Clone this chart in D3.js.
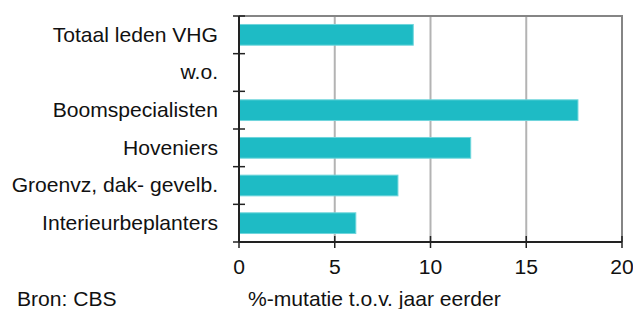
<!DOCTYPE html>
<html>
<head>
<meta charset="utf-8">
<script src="https://cdn.jsdelivr.net/npm/d3@7"></script>
<style>
  body { margin: 0; background: #fff; overflow: hidden; }
  text { font-family: "Liberation Sans", Arial, sans-serif; fill: #111; font-size: 21.1px; }
</style>
</head>
<body>
<div id="chart"></div>
<script>
// Data
const categories = ["Totaal leden VHG", "w.o.", "Boomspecialisten", "Hoveniers", "Groenvz, dak- gevelb.", "Interieurbeplanters"];
const values = [9.1, null, 17.7, 12.1, 8.3, 6.1];
const xTicks = [0, 5, 10, 15, 20];
const source = "Bron: CBS";
const xTitle = "%-mutatie t.o.v. jaar eerder";

const width = 633, height = 309;
const margin = { top: 16, right: 11, bottom: 67, left: 239 };

const svg = d3.select("#chart").append("svg")
    .attr("width", width)
    .attr("height", height);

const x = d3.scaleLinear()
    .domain([0, 20])
    .range([margin.left, width - margin.right]);

const y = d3.scaleBand()
    .domain(categories)
    .range([margin.top, height - margin.bottom])
    .paddingInner(0.45)
    .paddingOuter(0.225);

// band edges for the y ticks
const yEdges = d3.scaleLinear()
    .domain([0, categories.length])
    .range([margin.top, height - margin.bottom]);

const plotTop = margin.top, plotBottom = height - margin.bottom;

// grid lines
svg.append("g")
    .selectAll("line")
    .data(xTicks.slice(1, -1))
    .join("line")
    .attr("x1", d => x(d)).attr("x2", d => x(d))
    .attr("y1", plotTop).attr("y2", plotBottom)
    .attr("stroke", "#b3b3b3")
    .attr("stroke-width", 2);

// top and right frame
svg.append("path")
    .attr("d", `M${x(0)},${plotTop}H${x(20)}V${plotBottom}`)
    .attr("fill", "none")
    .attr("stroke", "#858585")
    .attr("stroke-width", 2);

// bars
svg.append("g")
    .selectAll("rect")
    .data(categories.map((c, i) => ({ c, v: values[i] })).filter(d => d.v != null))
    .join("rect")
    .attr("x", x(0))
    .attr("y", d => y(d.c))
    .attr("width", d => x(d.v) - x(0))
    .attr("height", y.bandwidth())
    .attr("fill", "#1ebbc5")
    .attr("stroke", "#6fd6dc")
    .attr("stroke-width", 1);

// left axis with crossing ticks
const yTickPos = d3.range(categories.length + 1).map(i => yEdges(i));
svg.append("line")
    .attr("x1", x(0)).attr("x2", x(0))
    .attr("y1", plotTop).attr("y2", plotBottom)
    .attr("stroke", "#222").attr("stroke-width", 2);
svg.append("g")
    .selectAll("line")
    .data(yTickPos)
    .join("line")
    .attr("x1", x(0) - 6).attr("x2", x(0) + 6)
    .attr("y1", d => d).attr("y2", d => d)
    .attr("stroke", "#222").attr("stroke-width", 1.5);

// bottom axis
svg.append("line")
    .attr("x1", x(0)).attr("x2", x(20))
    .attr("y1", plotBottom).attr("y2", plotBottom)
    .attr("stroke", "#222").attr("stroke-width", 2);
svg.append("g")
    .selectAll("line")
    .data(xTicks)
    .join("line")
    .attr("x1", d => x(d)).attr("x2", d => x(d))
    .attr("y1", plotBottom - 6).attr("y2", plotBottom + 6)
    .attr("stroke", "#222").attr("stroke-width", 1.5);

svg.append("g")
    .selectAll("text")
    .data(xTicks)
    .join("text")
    .attr("x", d => x(d))
    .attr("y", plotBottom + 32)
    .attr("text-anchor", "middle")
    .text(d => d);

// category labels
svg.append("g")
    .selectAll("text")
    .data(categories)
    .join("text")
    .attr("x", x(0) - 21)
    .attr("y", d => y(d) + y.bandwidth() / 2)
    .attr("dy", "0.33em")
    .attr("text-anchor", "end")
    .text(d => d);

svg.append("text")
    .attr("x", 17).attr("y", 306)
    .text(source);

svg.append("text")
    .attr("x", 248).attr("y", 306)
    .text(xTitle);
</script>
</body>
</html>
